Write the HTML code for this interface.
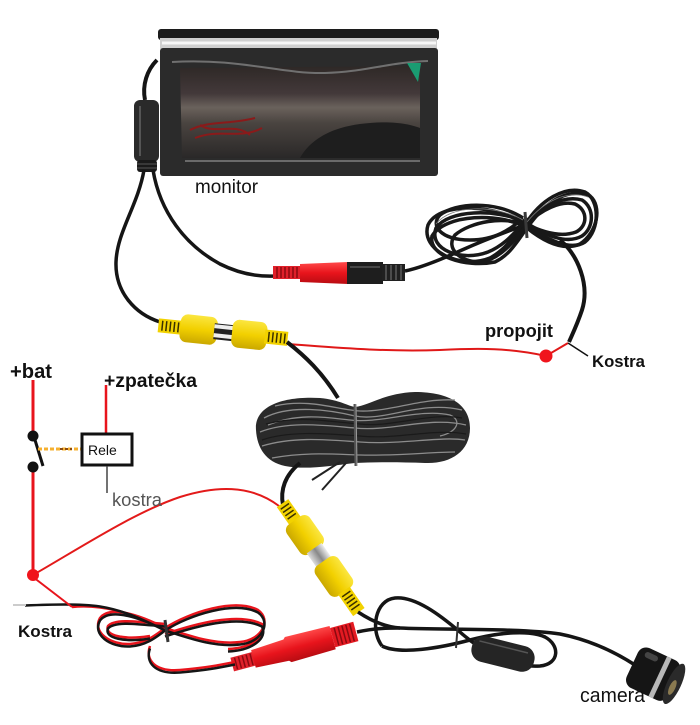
<!DOCTYPE html>
<html><head><meta charset="utf-8"><style>
html,body{margin:0;padding:0;background:#fff;}
svg{display:block}
text{font-family:"Liberation Sans",Arial,sans-serif;}
</style></head><body>
<svg width="700" height="725" viewBox="0 0 700 725" xmlns="http://www.w3.org/2000/svg">
<defs>
<linearGradient id="scr" x1="0" y1="0" x2="0" y2="1">
<stop offset="0" stop-color="#2e2826"/><stop offset="0.3" stop-color="#43393a"/><stop offset="0.45" stop-color="#6a625c"/><stop offset="0.62" stop-color="#4a4440"/><stop offset="1" stop-color="#2a2828"/>
</linearGradient>
<linearGradient id="yel" x1="0" y1="0" x2="0" y2="1">
<stop offset="0" stop-color="#fbe640"/><stop offset="0.5" stop-color="#f2d000"/><stop offset="1" stop-color="#caa800"/>
</linearGradient>
<linearGradient id="red" x1="0" y1="0" x2="0" y2="1">
<stop offset="0" stop-color="#ff4a4a"/><stop offset="0.5" stop-color="#e8141c"/><stop offset="1" stop-color="#b80c12"/>
</linearGradient>
<linearGradient id="met" x1="0" y1="0" x2="0" y2="1">
<stop offset="0" stop-color="#eee"/><stop offset="0.5" stop-color="#888"/><stop offset="1" stop-color="#ddd"/>
</linearGradient>
</defs>
<rect width="700" height="725" fill="#fff"/>

<!-- Monitor -->
<rect x="158" y="29" width="281" height="11" rx="3" fill="#1c1c1c"/>
<rect x="160" y="38" width="277" height="11" fill="#cfcfcf"/>
<line x1="162" y1="43" x2="436" y2="43" stroke="#f6f6f6" stroke-width="3"/>
<rect x="160" y="48" width="278" height="128" rx="3" fill="#2b2b2b"/>
<path d="M180,68 L420,66 L420,158 L182,158 Z" fill="url(#scr)"/>
<path d="M172,62 C 240,58 280,74 325,73 C 365,72 390,62 428,61" stroke="#707070" stroke-width="2" fill="none"/>
<path d="M300,158 C 310,140 330,128 360,124 C 390,120 410,124 420,128 L420,158 Z" fill="#1e1e1e"/>
<path d="M190,130 C 210,120 230,125 255,118 M195,138 C 220,128 240,140 262,128 M200,125 C 215,135 235,122 250,135" stroke="#8a1a1a" stroke-width="2" fill="none"/>
<line x1="185" y1="161" x2="420" y2="161" stroke="#6a6a6a" stroke-width="2"/>
<polygon points="407,63 421,63 418,82" fill="#1a9c72"/>

<!-- monitor cable -->
<path d="M157,60 C 147,70 142,85 145,100" stroke="#151515" stroke-width="4" fill="none"/>
<rect x="134" y="100" width="25" height="62" rx="6" fill="#2a2a2a"/>
<line x1="140" y1="106" x2="140" y2="156" stroke="#555" stroke-width="2"/>
<rect x="137" y="160" width="20" height="12" rx="3" fill="#1a1a1a"/>
<line x1="137" y1="164" x2="157" y2="164" stroke="#555" stroke-width="1"/>
<line x1="137" y1="168" x2="157" y2="168" stroke="#555" stroke-width="1"/>
<path d="M144,170 C 138,205 117,232 116,262 C 115,292 135,314 160,322" stroke="#151515" stroke-width="3.5" fill="none"/>
<path d="M153,170 C 160,212 185,245 220,264 C 240,274 258,277 276,276" stroke="#151515" stroke-width="3.5" fill="none"/>

<!-- upper red connector -->
<rect x="273" y="266" width="28" height="13" fill="#e0202a"/>
<g stroke="#8a0a10" stroke-width="1.5"><line x1="277" y1="267" x2="277" y2="278"/><line x1="281" y1="267" x2="281" y2="278"/><line x1="285" y1="267" x2="285" y2="278"/><line x1="289" y1="267" x2="289" y2="278"/><line x1="293" y1="267" x2="293" y2="278"/><line x1="297" y1="267" x2="297" y2="278"/></g>
<path d="M300,264 L348,262 L348,284 L300,282 Z" fill="url(#red)"/>
<rect x="347" y="262" width="36" height="22" fill="#1e1e1e"/>
<line x1="350" y1="267" x2="380" y2="267" stroke="#555" stroke-width="1.5"/>
<rect x="382" y="264" width="23" height="17" fill="#202020"/>
<g stroke="#5a5a5a" stroke-width="1.5"><line x1="386" y1="265" x2="386" y2="280"/><line x1="391" y1="265" x2="391" y2="280"/><line x1="396" y1="265" x2="396" y2="280"/><line x1="401" y1="265" x2="401" y2="280"/></g>
<path d="M405,271 C 420,268 440,260 462,250 C 480,242 500,234 525,225" stroke="#151515" stroke-width="3.5" fill="none"/>

<!-- upper coil -->
<g fill="none" stroke="#181818" stroke-width="3.5">
<path d="M525,225 C 500,205 440,200 428,225 C 420,250 460,270 490,258 C 505,250 515,235 525,225"/>
<path d="M525,222 C 495,208 448,210 436,228 C 428,250 462,262 488,252 C 505,245 515,232 525,222"/>
<path d="M527,228 C 500,212 445,214 432,236 C 428,256 465,268 495,262 C 510,255 518,240 527,228"/>
<path d="M523,218 C 495,200 455,203 440,215 C 430,225 440,240 470,240 C 495,240 510,230 523,218"/>
<path d="M526,226 C 505,215 470,222 455,235 C 445,248 460,262 480,262 C 500,260 515,240 526,226"/>
<path d="M525,225 C 540,200 565,185 585,192 C 600,200 600,230 585,242 C 570,252 545,238 525,225"/>
<path d="M525,222 C 545,205 565,195 582,200 C 595,208 594,228 582,236 C 566,245 545,235 525,222"/>
<path d="M527,228 C 548,198 570,188 590,196 C 602,206 598,232 580,244 C 562,252 542,240 527,228"/>
<path d="M526,224 C 542,210 560,200 575,204 C 588,210 588,226 576,232 C 560,238 542,232 526,224"/>
</g>
<g fill="none" stroke="#7a7a7a" stroke-width="0.8">
<path d="M523,220 C 495,204 450,205 436,224"/>
<path d="M527,222 C 545,200 568,190 588,197"/>
</g>
<line x1="525" y1="212" x2="527" y2="238" stroke="#3a3a3a" stroke-width="3"/>
<path d="M560,240 C 578,255 590,285 582,310 C 577,325 572,335 569,342" stroke="#151515" stroke-width="4" fill="none"/>

<!-- propojit wire -->
<path d="M287,344 C 330,347 380,352 440,350 C 480,348 510,348 546,356 L568,343" stroke="#e01818" stroke-width="2" fill="none"/>
<line x1="568" y1="343" x2="588" y2="356" stroke="#111" stroke-width="1.5"/>
<circle cx="546" cy="356" r="6.5" fill="#f0141c"/>

<!-- yellow connector pair -->
<g transform="rotate(6,222,332)">
<rect x="158" y="325" width="23" height="14" fill="#f2d200"/>
<g stroke="#3a3000" stroke-width="1.5"><line x1="162" y1="327" x2="162" y2="337"/><line x1="166" y1="327" x2="166" y2="337"/><line x1="170" y1="327" x2="170" y2="337"/><line x1="174" y1="327" x2="174" y2="337"/><line x1="178" y1="327" x2="178" y2="337"/></g>
<rect x="180" y="318" width="37" height="28" rx="7" fill="url(#yel)"/>
<rect x="214" y="324" width="21" height="16" fill="#222"/>
<rect x="214" y="325" width="21" height="4" fill="#eee"/>
<rect x="214" y="334" width="21" height="4" fill="#eee"/>
<rect x="232" y="318" width="35" height="28" rx="7" fill="url(#yel)"/>
<rect x="265" y="325" width="23" height="14" fill="#f2d200"/>
<g stroke="#3a3000" stroke-width="1.5"><line x1="269" y1="327" x2="269" y2="337"/><line x1="273" y1="327" x2="273" y2="337"/><line x1="277" y1="327" x2="277" y2="337"/><line x1="281" y1="327" x2="281" y2="337"/><line x1="285" y1="327" x2="285" y2="337"/></g>
</g>
<path d="M287,342 C 305,356 322,372 338,398" stroke="#151515" stroke-width="4" fill="none"/>

<!-- big coil -->
<path d="M256,430 C 254,405 285,396 320,398 C 340,400 348,406 355,407 C 370,405 385,393 415,392 C 450,392 470,405 470,428 C 470,452 450,464 425,463 C 400,462 375,462 355,463 C 330,466 305,470 285,466 C 266,462 257,448 256,430 Z" fill="#2a2a2a"/>
<g fill="none" stroke="#8c8c8c" stroke-width="1.3">
<path d="M264,418 C 290,404 330,410 355,416 C 385,422 420,400 462,410"/>
<path d="M260,432 C 290,420 330,426 355,428 C 390,432 430,416 466,425"/>
<path d="M262,446 C 295,436 330,440 360,442 C 400,445 440,436 465,440"/>
<path d="M272,458 C 305,452 330,454 360,455 C 400,456 430,452 455,452"/>
<path d="M275,406 C 310,398 338,410 360,411 C 390,412 420,398 455,400"/>
<path d="M268,425 C 300,412 330,418 350,420 C 380,424 420,408 450,415 C 462,420 458,432 440,436"/>
</g>
<g fill="none" stroke="#1a1a1a" stroke-width="1.2">
<path d="M266,424 C 300,415 330,422 360,424 C 390,428 430,412 462,418"/>
<path d="M262,440 C 290,430 330,434 360,436 C 395,440 435,428 466,434"/>
</g>
<line x1="355" y1="404" x2="356" y2="466" stroke="#555" stroke-width="3"/>
<line x1="356" y1="404" x2="357" y2="466" stroke="#999" stroke-width="1"/>
<path d="M340,462 L312,480 M346,463 L322,490" stroke="#222" stroke-width="2" fill="none"/>
<path d="M300,463 C 285,475 280,490 283,505" stroke="#151515" stroke-width="4" fill="none"/>

<!-- red wire from bottom-left dot -->
<path d="M33,575 C 80,548 135,512 180,497 C 215,486 250,484 279,506" stroke="#e31a1a" stroke-width="2" fill="none"/>

<!-- yellow connector 3 -->
<g transform="translate(321,558) rotate(55)">
<rect x="-67" y="-7" width="22" height="14" fill="#f2d200"/>
<g stroke="#3a3000" stroke-width="1.5"><line x1="-63" y1="-5" x2="-63" y2="5"/><line x1="-59" y1="-5" x2="-59" y2="5"/><line x1="-55" y1="-5" x2="-55" y2="5"/><line x1="-51" y1="-5" x2="-51" y2="5"/></g>
<rect x="-46" y="-14" width="36" height="28" rx="7" fill="url(#yel)"/>
<rect x="-12" y="-9" width="18" height="18" fill="url(#met)"/>
<rect x="4" y="-14" width="37" height="28" rx="7" fill="url(#yel)"/>
<rect x="40" y="-7" width="26" height="14" fill="#f2d200"/>
<g stroke="#3a3000" stroke-width="1.5"><line x1="44" y1="-5" x2="44" y2="5"/><line x1="48" y1="-5" x2="48" y2="5"/><line x1="52" y1="-5" x2="52" y2="5"/><line x1="56" y1="-5" x2="56" y2="5"/><line x1="60" y1="-5" x2="60" y2="5"/></g>
</g>

<!-- camera cables -->
<g fill="none" stroke="#151515" stroke-width="3.5">
<path d="M358,612 C 370,620 385,627 400,628 C 440,630 520,628 560,634 C 590,640 615,652 635,665"/>
<path d="M357,632 C 375,628 390,628 400,628"/>
<path d="M382,646 C 370,630 375,600 395,598 C 415,596 440,615 460,632 C 480,650 510,668 540,666 C 560,664 560,645 545,637 C 530,630 500,632 470,640 C 440,648 400,655 382,646"/>
</g>
<line x1="458" y1="622" x2="456" y2="648" stroke="#333" stroke-width="2"/>
<g transform="translate(503,654) rotate(14)">
<rect x="-32" y="-13" width="64" height="26" rx="12" fill="#252525"/>
<line x1="-26" y1="-7" x2="24" y2="-7" stroke="#555" stroke-width="1.5"/>
</g>

<!-- camera -->
<g transform="translate(655,675) rotate(25)">
<rect x="-25" y="-22" width="46" height="44" rx="9" fill="#151515"/>
<rect x="-18" y="-18" width="14" height="6" rx="3" fill="#444"/>
<rect x="3" y="-22" width="5" height="44" fill="#b8b8b8"/>
<ellipse cx="21" cy="0" rx="7" ry="22" fill="#2a2a2a"/>
<ellipse cx="21" cy="4" rx="3" ry="8" fill="#8a7a50"/>
</g>

<!-- bottom red connector -->
<g transform="translate(294,648) rotate(-15)">
<rect x="-64" y="-7" width="23" height="14" fill="#e0202a"/>
<g stroke="#8a0a10" stroke-width="1.5"><line x1="-60" y1="-6" x2="-60" y2="6"/><line x1="-56" y1="-6" x2="-56" y2="6"/><line x1="-52" y1="-6" x2="-52" y2="6"/><line x1="-48" y1="-6" x2="-48" y2="6"/><line x1="-44" y1="-6" x2="-44" y2="6"/></g>
<path d="M-42,-9 L-8,-11 L-6,-13 L40,-12 L40,12 L-6,13 L-8,11 L-42,9 Z" fill="url(#red)"/>
<rect x="40" y="-10" width="24" height="20" fill="#e41a22"/>
<g stroke="#8a0a10" stroke-width="1.5"><line x1="44" y1="-9" x2="44" y2="9"/><line x1="48" y1="-9" x2="48" y2="9"/><line x1="52" y1="-9" x2="52" y2="9"/><line x1="56" y1="-9" x2="56" y2="9"/><line x1="60" y1="-9" x2="60" y2="9"/></g>
</g>

<!-- bottom red/black coil -->
<g fill="none" stroke-width="2.5">
<g stroke="#e8141c">
<path d="M72,607 C 100,604 130,612 165,628"/>
<path d="M165,628 C 190,612 235,598 258,610 C 272,620 262,640 240,642 C 215,645 190,636 165,628"/>
<path d="M165,628 C 140,615 110,605 100,618 C 92,632 110,645 130,644 C 145,643 155,636 165,628"/>
<path d="M150,646 C 145,660 155,672 180,670 C 205,668 220,665 235,662"/>
<path d="M165,634 C 195,624 238,612 262,624 C 268,636 252,648 228,649"/>
<path d="M165,624 C 140,622 115,618 108,626 C 104,636 125,640 150,636"/>
</g>
<g stroke="#151515" transform="translate(0,2.5)">
<path d="M25,603 C 50,602 80,601 100,604 C 125,608 145,618 165,628"/>
<path d="M165,628 C 190,612 235,598 258,610 C 272,620 262,640 240,642 C 215,645 190,636 165,628"/>
<path d="M165,628 C 140,615 110,605 100,618 C 92,632 110,645 130,644 C 145,643 155,636 165,628"/>
<path d="M150,646 C 145,660 155,672 180,670 C 205,668 220,665 235,662"/>
<path d="M165,634 C 195,624 238,612 262,624 C 268,636 252,648 228,649"/>
<path d="M165,624 C 140,622 115,618 108,626 C 104,636 125,640 150,636"/>
</g>
</g>
<line x1="13" y1="605" x2="26" y2="605" stroke="#ccc" stroke-width="2"/>
<line x1="165" y1="620" x2="168" y2="642" stroke="#333" stroke-width="3"/>
<line x1="33" y1="577" x2="72" y2="607" stroke="#e8141c" stroke-width="2"/>

<!-- relay diagram -->
<line x1="33" y1="380" x2="33" y2="432" stroke="#e8141c" stroke-width="3"/>
<line x1="33" y1="471" x2="33" y2="575" stroke="#e8141c" stroke-width="3"/>
<circle cx="33" cy="436" r="5.5" fill="#111"/>
<circle cx="33" cy="467" r="5.5" fill="#111"/>
<line x1="35" y1="440" x2="43" y2="466" stroke="#111" stroke-width="3"/>
<line x1="38" y1="449" x2="81" y2="449" stroke="#f5b030" stroke-width="3" stroke-dasharray="4,2"/>
<line x1="60" y1="449" x2="72" y2="449" stroke="#8a4a10" stroke-width="2" stroke-dasharray="3,2"/>
<line x1="106" y1="385" x2="106" y2="434" stroke="#e8141c" stroke-width="2.5"/>
<rect x="82" y="434" width="50" height="31" fill="#fff" stroke="#111" stroke-width="3"/>
<text x="88" y="455" font-size="14" fill="#111">Rele</text>
<line x1="107" y1="466" x2="107" y2="493" stroke="#444" stroke-width="1.5"/>
<circle cx="33" cy="575" r="6" fill="#f0141c"/>

<!-- labels -->
<text x="10" y="378" font-size="20" font-weight="bold" fill="#111" textLength="42" lengthAdjust="spacingAndGlyphs">+bat</text>
<text x="104" y="387" font-size="19" font-weight="bold" fill="#111" textLength="93" lengthAdjust="spacingAndGlyphs">+zpatečka</text>
<text x="112" y="506" font-size="18" fill="#555" textLength="50" lengthAdjust="spacingAndGlyphs">kostra</text>
<text x="18" y="637" font-size="17" font-weight="bold" fill="#111" textLength="54" lengthAdjust="spacingAndGlyphs">Kostra</text>
<text x="485" y="337" font-size="18" font-weight="bold" fill="#111" textLength="68" lengthAdjust="spacingAndGlyphs">propojit</text>
<text x="592" y="367" font-size="17" font-weight="bold" fill="#111" textLength="53" lengthAdjust="spacingAndGlyphs">Kostra</text>
<text x="195" y="193" font-size="19" fill="#111" textLength="63" lengthAdjust="spacingAndGlyphs">monitor</text>
<text x="580" y="702" font-size="20" fill="#111" textLength="65" lengthAdjust="spacingAndGlyphs">camera</text>
</svg>
</body></html>
